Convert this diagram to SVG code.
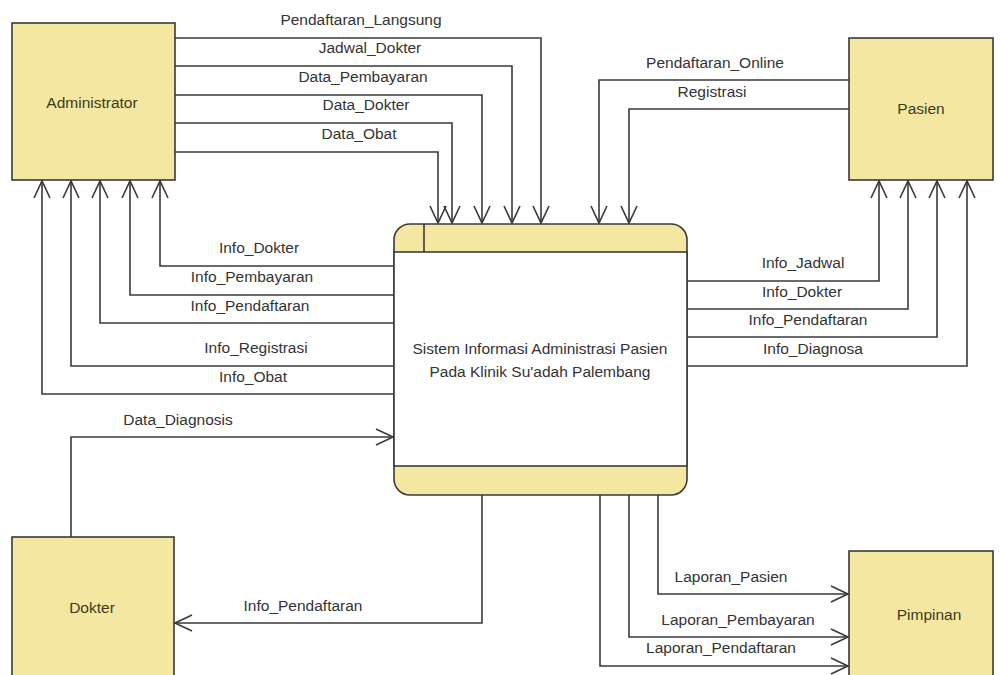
<svg xmlns="http://www.w3.org/2000/svg" width="1000" height="675" viewBox="0 0 1000 675">
<style>
.ent{fill:#f3e7a1;stroke:#3a3a3a;stroke-width:1.6}
.et{font-family:"Liberation Sans",Arial,sans-serif;font-size:15.5px;fill:#3d3a1e;text-anchor:middle}
.lb{font-family:"Liberation Sans",Arial,sans-serif;font-size:15.5px;fill:#333;text-anchor:middle}
.c path{fill:none;stroke:#3a3a3a;stroke-width:1.6;marker-end:url(#a)}
</style>
<defs>
<marker id="a" markerUnits="userSpaceOnUse" markerWidth="22" markerHeight="22" refX="18" refY="9" orient="auto">
<path d="M1,1 L18,9 L1,17" fill="none" stroke="#3a3a3a" stroke-width="1.6"/>
</marker>
</defs>
<rect width="1000" height="675" fill="#fff"/>
<g id="administrator"><rect class="ent" x="12" y="23" width="163" height="157"/><text class="et" x="92" y="108">Administrator</text></g>
<g id="pasien"><rect class="ent" x="849" y="38" width="144" height="142"/><text class="et" x="921" y="114">Pasien</text></g>
<g id="dokter"><rect class="ent" x="12" y="537" width="162" height="160"/><text class="et" x="92" y="613">Dokter</text></g>
<g id="pimpinan"><rect class="ent" x="849" y="551" width="144" height="140"/><text class="et" x="929" y="620">Pimpinan</text></g>
<g id="proses">
<rect x="394" y="224" width="293" height="271" rx="16" fill="#f3e7a1" stroke="#3a3a3a" stroke-width="1.6"/>
<rect x="394" y="252" width="293" height="214" fill="#fff" stroke="#3a3a3a" stroke-width="1.6"/>
<line x1="424" y1="224" x2="424" y2="252" stroke="#3a3a3a" stroke-width="1.6"/>
<text class="lb" x="540" y="354">Sistem Informasi Administrasi Pasien</text>
<text class="lb" x="540" y="377">Pada Klinik Su'adah Palembang</text>
</g>
<g id="connectors" class="c">
<path d="M175,38 H541 V223"/>
<path d="M175,66 H512 V223"/>
<path d="M175,95 H482 V223"/>
<path d="M175,123 H452 V223"/>
<path d="M175,152 H438 V223"/>
<path d="M849,80 H599 V223"/>
<path d="M849,109 H629 V223"/>
<path d="M394,266 H160 V181"/>
<path d="M394,295 H130 V181"/>
<path d="M394,323 H100 V181"/>
<path d="M394,366 H71 V181"/>
<path d="M394,394 H42 V181"/>
<path d="M687,281 H879 V181"/>
<path d="M687,309 H908 V181"/>
<path d="M687,337 H937 V181"/>
<path d="M687,366 H967 V181"/>
<path d="M71,537 V437 H393"/>
<path d="M482,495 V623 H175"/>
<path d="M658,495 V594 H848"/>
<path d="M629,495 V637 H848"/>
<path d="M600,495 V666 H848"/>
</g>
<g id="labels">
<text class="lb" x="361" y="25">Pendaftaran_Langsung</text>
<text class="lb" x="370" y="53">Jadwal_Dokter</text>
<text class="lb" x="363" y="82">Data_Pembayaran</text>
<text class="lb" x="366" y="110">Data_Dokter</text>
<text class="lb" x="359" y="139">Data_Obat</text>
<text class="lb" x="715" y="68">Pendaftaran_Online</text>
<text class="lb" x="712" y="97">Registrasi</text>
<text class="lb" x="259" y="253">Info_Dokter</text>
<text class="lb" x="252" y="282">Info_Pembayaran</text>
<text class="lb" x="250" y="311">Info_Pendaftaran</text>
<text class="lb" x="256" y="353">Info_Registrasi</text>
<text class="lb" x="253" y="382">Info_Obat</text>
<text class="lb" x="178" y="425">Data_Diagnosis</text>
<text class="lb" x="803" y="268">Info_Jadwal</text>
<text class="lb" x="802" y="297">Info_Dokter</text>
<text class="lb" x="808" y="325">Info_Pendaftaran</text>
<text class="lb" x="813" y="354">Info_Diagnosa</text>
<text class="lb" x="303" y="611">Info_Pendaftaran</text>
<text class="lb" x="731" y="582">Laporan_Pasien</text>
<text class="lb" x="738" y="625">Laporan_Pembayaran</text>
<text class="lb" x="721" y="653">Laporan_Pendaftaran</text>
</g>
</svg>
